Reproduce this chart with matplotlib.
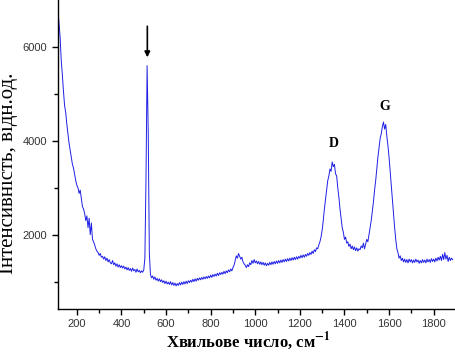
import numpy as np
import matplotlib
matplotlib.use("Agg")
import matplotlib.pyplot as plt
from matplotlib import font_manager

plt.rcParams["mathtext.fontset"] = "stix"

wavenumber_start = 115
wavenumber_step = 5

intensity = [
    # 115-400
    6800, 6500, 6200, 5700, 5400, 5050, 4750, 4600, 4350, 4150,
    3950, 3800, 3650, 3500, 3420, 3280, 3150, 3050, 3000, 2880,
    2950, 2780, 2600, 2550, 2450, 2300, 2400, 2150, 2350, 2000,
    2250, 1900, 1850, 1780, 1700, 1650, 1620, 1560, 1600, 1520,
    1540, 1480, 1530, 1450, 1500, 1420, 1470, 1400, 1380, 1450,
    1360, 1400, 1330, 1380, 1310, 1360, 1300, 1340,
    # 405-700
    1290, 1330, 1270, 1310, 1250, 1300, 1240, 1280, 1220, 1290,
    1230, 1260, 1200, 1270, 1210, 1240, 1190, 1230, 1200, 1250,
    1500, 3200, 5600, 4200, 1600, 1150, 1080, 1120, 1050, 1100,
    1030, 1070, 1010, 1060, 1000, 1040, 980, 1020, 960, 1010,
    950, 990, 940, 1000, 930, 980, 920, 970, 910, 960,
    920, 980, 930, 990, 940, 1000, 950, 1010, 960, 1020,
    # 705-900
    980, 1030, 990, 1050, 1000, 1060, 1010, 1070, 1030, 1080,
    1040, 1090, 1050, 1100, 1060, 1110, 1070, 1120, 1080, 1140,
    1090, 1150, 1110, 1160, 1120, 1180, 1130, 1190, 1150, 1200,
    1160, 1220, 1170, 1230, 1190, 1250, 1210, 1270, 1230, 1300,
    # 905-1000
    1350, 1450, 1550, 1500, 1600, 1540, 1480, 1520, 1420, 1380,
    1350, 1300, 1360, 1320, 1400, 1360, 1450, 1390, 1470, 1400,
    # 1005-1280
    1440, 1380, 1430, 1370, 1420, 1360, 1410, 1350, 1400, 1340,
    1390, 1350, 1410, 1360, 1420, 1370, 1430, 1380, 1440, 1390,
    1450, 1400, 1460, 1410, 1470, 1420, 1480, 1430, 1490, 1440,
    1500, 1450, 1510, 1460, 1520, 1470, 1530, 1480, 1540, 1500,
    1560, 1510, 1570, 1520, 1580, 1540, 1600, 1560, 1620, 1580,
    1650, 1600, 1680, 1640, 1720, 1700,
    # 1285-1500
    1780, 1850, 1950, 2100, 2300, 2550, 2750, 2950, 3150, 3250,
    3400, 3350, 3550, 3450, 3500, 3300, 3250, 3000, 2800, 2550,
    2350, 2150, 2050, 1900, 1950, 1820, 1850, 1750, 1800, 1700,
    1760, 1680, 1740, 1660, 1720, 1650, 1700, 1680, 1760, 1720,
    1820, 1700, 1800, 1900,
    # 1505-1700
    1850, 2000, 2150, 2300, 2500, 2700, 2950, 3150, 3400, 3650,
    3850, 4050, 4150, 4300, 4400, 4250, 4350, 4100, 3900, 3650,
    3350, 3050, 2750, 2450, 2150, 1900, 1700, 1620, 1500, 1550,
    1450, 1500, 1420, 1480, 1410, 1470, 1400, 1480, 1420, 1470,
    # 1705-1885
    1400, 1460, 1410, 1480, 1420, 1460, 1390, 1450, 1400, 1470,
    1410, 1460, 1400, 1480, 1420, 1470, 1410, 1490, 1430, 1480,
    1420, 1500, 1440, 1520, 1460, 1540, 1450, 1580, 1470, 1620,
    1480, 1560, 1430, 1520, 1450, 1500, 1470,
]
wavenumber = wavenumber_start + wavenumber_step * np.arange(len(intensity))

peak_labels = ["D", "G"]
peak_label_x = [1352, 1580]
peak_label_y = [3800, 4600]

si_peak_x = 516
arrow_top = 6500
arrow_tip = 5720

x_ticks = [200, 400, 600, 800, 1000, 1200, 1400, 1600, 1800]
y_ticks = [2000, 4000, 6000]

serif = "Liberation Serif"
installed = {f.name for f in font_manager.fontManager.ttflist}
tick_font = "Liberation Sans Narrow" if "Liberation Sans Narrow" in installed else "Liberation Sans"

fig = plt.figure(figsize=(4.56, 3.53), dpi=100)
ax = fig.add_axes([0.127, 0.125, 0.868, 0.875])
ax.plot(wavenumber, intensity, color="#1f1fe6", lw=0.7)

ax.set_xlim(115, 1890)
ax.set_ylim(420, 7000)
ax.set_xticks(x_ticks)
ax.set_yticks(y_ticks)
ax.set_xticks(np.arange(300, 1900, 200), minor=True)
ax.set_yticks([1000, 3000, 5000], minor=True)
ax.tick_params(which="both", direction="out", width=1, color="black")
ax.tick_params(which="major", length=4, labelsize=8)
ax.tick_params(which="minor", length=3)
for lab in ax.get_xticklabels() + ax.get_yticklabels():
    lab.set_family(tick_font)
    lab.set_color("#333333")

for side in ["top", "right"]:
    ax.spines[side].set_visible(False)
for side in ["left", "bottom"]:
    ax.spines[side].set_linewidth(1.0)

ax.set_xlabel("Хвильове число, см$^{\\mathbf{-1}}$", family=serif, fontsize=12,
              fontweight="bold", va="top")
ax.xaxis.set_label_coords(0.48, -0.068)
ax.set_ylabel("Інтенсивність, відн.од.", family=serif, fontsize=15)
ax.yaxis.set_label_coords(-0.1, 0.44)

for t, x, y in zip(peak_labels, peak_label_x, peak_label_y):
    ax.text(x, y, t, family=serif, fontsize=10, fontweight="bold",
            ha="center", va="bottom")

ax.annotate("", xy=(si_peak_x, arrow_tip), xytext=(si_peak_x, arrow_top),
            arrowprops=dict(arrowstyle="-|>", color="black", lw=1.2,
                            mutation_scale=8))

fig.savefig("out.png", dpi=100)
